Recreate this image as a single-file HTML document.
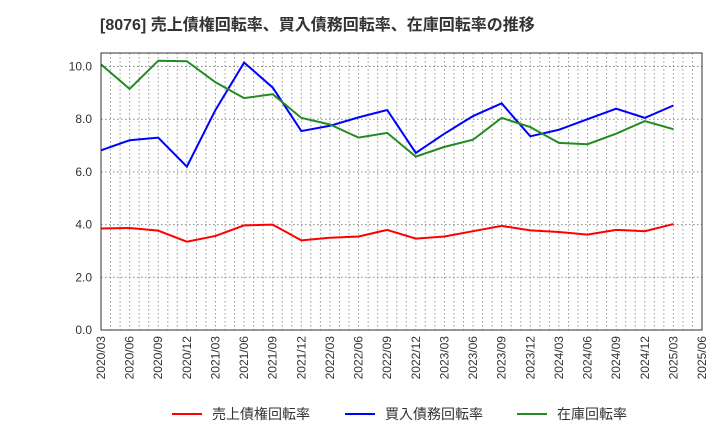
<!DOCTYPE html>
<html><head><meta charset="utf-8"><style>
body{margin:0;background:#fff;width:720px;height:440px;overflow:hidden;font-family:"Liberation Sans","Noto Sans CJK JP",sans-serif}
</style></head><body>
<svg width="720" height="440" xmlns="http://www.w3.org/2000/svg">
<text x="100" y="30" font-size="16" font-weight="bold" fill="#333" font-family="Liberation Sans, Noto Sans CJK JP, sans-serif">[8076]  売上債権回転率、買入債務回転率、在庫回転率の推移</text>
<g id="grid"></g><g id="axes"></g><g id="series"></g>
<rect x="101" y="53" width="601" height="277" fill="none" stroke="#333" stroke-width="1"/>
<g id="legend" font-size="14" font-family="Liberation Sans, Noto Sans CJK JP, sans-serif" fill="#333">
<line x1="172" y1="414" x2="202" y2="414" stroke="#f00" stroke-width="2"/>
<text x="212" y="419">売上債権回転率</text>
<line x1="345" y1="414" x2="375" y2="414" stroke="#00f" stroke-width="2"/>
<text x="385" y="419">買入債務回転率</text>
<line x1="517" y1="414" x2="547" y2="414" stroke="#228b22" stroke-width="2"/>
<text x="557" y="419">在庫回転率</text>
</g>
</svg>
<script>
const xLabels=["2020/03","2020/06","2020/09","2020/12","2021/03","2021/06","2021/09","2021/12","2022/03","2022/06","2022/09","2022/12","2023/03","2023/06","2023/09","2023/12","2024/03","2024/06","2024/09","2024/12","2025/03","2025/06"];
const yTicks=[0,2,4,6,8,10];
const receivables=[3.85,3.87,3.77,3.35,3.57,3.97,4.0,3.4,3.5,3.55,3.8,3.47,3.55,3.75,3.95,3.78,3.72,3.62,3.8,3.75,4.02];
const payables=[6.82,7.2,7.3,6.2,8.35,10.15,9.2,7.55,7.75,8.07,8.35,6.72,7.45,8.12,8.6,7.35,7.6,8.0,8.4,8.05,8.52];
const inventory=[10.08,9.15,10.22,10.2,9.4,8.8,8.95,8.05,7.8,7.3,7.48,6.58,6.95,7.22,8.05,7.7,7.1,7.05,7.45,7.93,7.62];
const NS="http://www.w3.org/2000/svg";
const X0=101,X1=702,Y0=330,YT=66.5;
const xs=i=>X0+(X1-X0)*i/(xLabels.length-1);
const ys=v=>Y0-(Y0-YT)*v/10;
function mk(t,a,p){const e=document.createElementNS(NS,t);for(const k in a)e.setAttribute(k,a[k]);p.appendChild(e);return e;}
const grid=document.getElementById('grid'),axes=document.getElementById('axes'),ser=document.getElementById('series');
for(let m=1;m<(xLabels.length-1)*3;m++){const x=X0+(X1-X0)*m/((xLabels.length-1)*3);
const l=mk('line',{x1:x,x2:x,y1:53,y2:330,stroke:'#999','stroke-dasharray':'1.5,2.5','stroke-width':1},grid);

}
yTicks.forEach(v=>{const y=ys(v);
const l=mk('line',{x1:X0,x2:X1,y1:y,y2:y,stroke:'#888','stroke-dasharray':'1.5,2.5','stroke-width':1},grid);


const t=mk('text',{x:92,y:y+4,'text-anchor':'end','font-size':12,fill:'#333'},axes);t.textContent=v.toFixed(1);

});
xLabels.forEach((s,i)=>{const x=xs(i);
const t=mk('text',{x:0,y:0,'text-anchor':'end','font-size':12,fill:'#333',transform:`translate(${x+4},336) rotate(-90)`},axes);t.textContent=s;

});
[[receivables,'#f00','receivables-line'],[payables,'#00f','payables-line'],[inventory,'#228b22','inventory-line']].forEach(([d,c,n])=>{
const p=mk('polyline',{points:d.map((v,i)=>xs(i)+','+ys(v)).join(' '),fill:'none',stroke:c,'stroke-width':2},ser);

});
</script>
</body></html>
